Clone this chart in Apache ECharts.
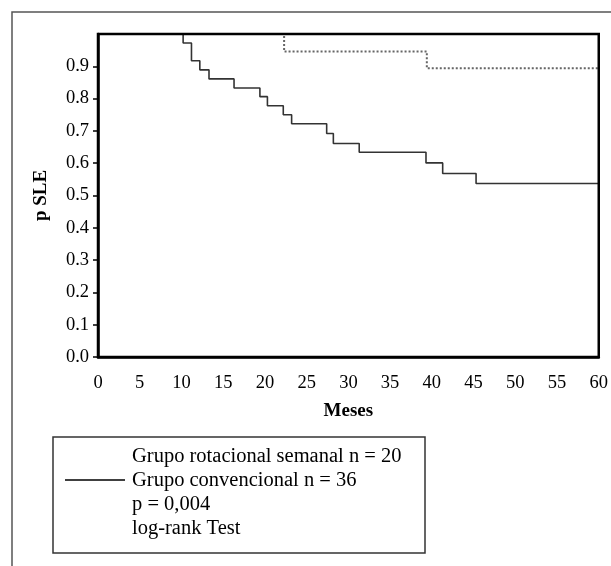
<!DOCTYPE html>
<html>
<head>
<meta charset="utf-8">
<title>p SLE</title>
<script src="https://cdn.jsdelivr.net/npm/echarts@6/dist/echarts.min.js"></script>
<style>
    html, body {
        margin: 0;
        padding: 0;
        background: #fff;
    }

    #chart {
        width: 611px;
        height: 566px;
    }
</style>
</head>
<body>
<div id="chart"></div>
<script>
    // Grupo convencional n = 36 (tiempo en meses, supervivencia)
    const convMonths = [0, 10.2, 11.2, 12.2, 13.3, 16.3, 19.4, 20.3, 22.2, 23.2, 27.4, 28.2, 31.3, 39.3, 41.3, 45.3, 60]
    const convSurv = [1, 0.972, 0.917, 0.889, 0.861, 0.833, 0.806, 0.778, 0.75, 0.722, 0.692, 0.661, 0.634, 0.601, 0.568, 0.537, 0.537]

    // Grupo rotacional semanal n = 20
    const rotMonths = [0, 22.3, 39.4, 60]
    const rotSurv = [1, 0.946, 0.894, 0.894]

    const yTicks = [0, 0.1, 0.2, 0.3, 0.4, 0.5, 0.6, 0.7, 0.8, 0.9]
    const yTickLabels = ['0.0', '0.1', '0.2', '0.3', '0.4', '0.5', '0.6', '0.7', '0.8', '0.9']
    const legendLines = [
        'Grupo rotacional semanal n = 20',
        'Grupo convencional n = 36',
        'p = 0,004',
        'log-rank Test'
    ]

    const serif = '"Liberation Serif", "DejaVu Serif", serif'

    let chart = echarts.init(document.getElementById('chart'))

    let options = {
        animation: false,
        backgroundColor: '#fff',
        textStyle: {
            fontFamily: serif,
            color: '#000'
        },
        grid: {
            left: 98,
            right: 12,
            top: 34,
            bottom: 209,
            show: true,
            z: 5,
            backgroundColor: 'transparent',
            borderColor: '#000',
            borderWidth: 2.5
        },
        xAxis: {
            type: 'value',
            min: 0,
            max: 60,
            interval: 5,
            name: 'Meses',
            nameLocation: 'middle',
            nameGap: 45,
            nameTextStyle: {
                fontFamily: serif,
                fontWeight: 'bold',
                fontSize: 19,
                color: '#000'
            },
            axisLine: {
                lineStyle: { color: '#000', width: 2.5 }
            },
            axisTick: { show: false },
            splitLine: { show: false },
            axisLabel: {
                margin: 17,
                fontFamily: serif,
                fontSize: 18.5,
                color: '#000'
            }
        },
        yAxis: {
            type: 'value',
            min: 0,
            max: 1,
            interval: 0.1,
            name: 'p SLE',
            nameLocation: 'middle',
            nameGap: 47,
            nameTextStyle: {
                fontFamily: serif,
                fontWeight: 'bold',
                fontSize: 19,
                color: '#000'
            },
            axisLine: {
                lineStyle: { color: '#000', width: 2.5 }
            },
            axisTick: {
                customValues: yTicks,
                length: 5,
                lineStyle: { color: '#000', width: 1.5 }
            },
            splitLine: { show: false },
            axisLabel: {
                customValues: yTicks,
                margin: 9,
                fontFamily: serif,
                fontSize: 18.5,
                color: '#000',
                formatter: function (v) {
                    let i = Math.round(v * 10)
                    return yTickLabels[i] || ''
                }
            }
        },
        series: [
            {
                name: legendLines[0],
                type: 'line',
                step: 'end',
                symbol: 'none',
                data: rotMonths.map((m, i) => [m, rotSurv[i]]),
                lineStyle: { color: '#666', width: 2, type: [2, 2] },
                z: 2
            },
            {
                name: legendLines[1],
                type: 'line',
                step: 'end',
                symbol: 'none',
                data: convMonths.map((m, i) => [m, convSurv[i]]),
                lineStyle: { color: '#333', width: 1.6 },
                z: 2
            }
        ],
        graphic: [
            // marco exterior
            {
                type: 'polyline',
                shape: { points: [[12, 566], [12, 12], [611, 12]] },
                style: { stroke: '#555', lineWidth: 1.5, fill: null }
            },
            // caja de leyenda
            {
                type: 'rect',
                shape: { x: 53, y: 437, width: 372, height: 116 },
                style: { stroke: '#333', lineWidth: 1.5, fill: '#fff' }
            },
            {
                type: 'line',
                shape: { x1: 65, y1: 480, x2: 125, y2: 480 },
                style: { stroke: '#000', lineWidth: 1.3 }
            },
            ...legendLines.map((t, i) => ({
                type: 'text',
                left: 132,
                top: 446 + i * 24,
                style: {
                    text: t,
                    font: '20.5px ' + serif,
                    fill: '#000'
                }
            }))
        ]
    }

    chart.setOption(options)
</script>
</body>
</html>
